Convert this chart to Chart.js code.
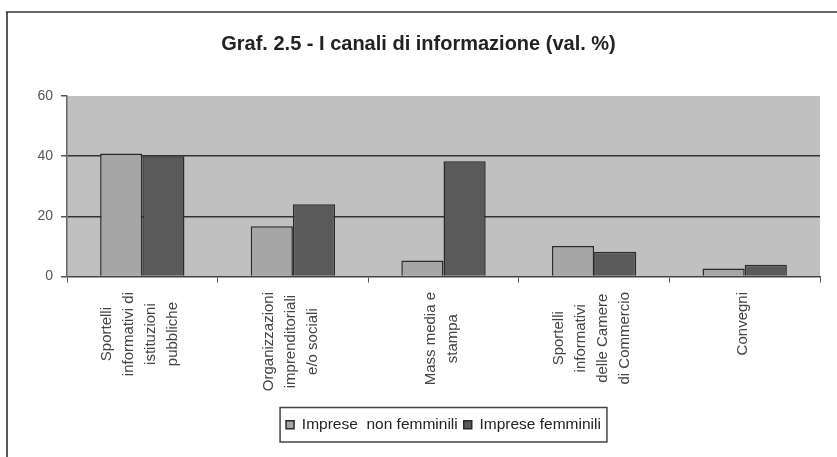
<!DOCTYPE html>
<html>
<head>
<meta charset="utf-8">
<script src="https://cdn.jsdelivr.net/npm/chart.js@4.4.1/dist/chart.umd.min.js"></script>
<style>
  html, body { margin: 0; padding: 0; background: #ffffff; }
  #wrap { width: 837px; height: 457px; position: relative; }
</style>
</head>
<body>
<div id="wrap"><canvas id="c" width="837" height="457"></canvas></div>
<script>
const titleText = "Graf. 2.5 - I canali di informazione (val. %)";
const categories = [
  ["Sportelli", "informativi di", "istituzioni", "pubbliche"],
  ["Organizzazioni", "imprenditoriali", "e/o sociali"],
  ["Mass media e", "stampa"],
  ["Sportelli", "informativi", "delle Camere", "di Commercio"],
  ["Convegni"]
];
const seriesNames = ["Imprese  non femminili", "Imprese femminili"];
const impreseNonFemminili = [40.9, 16.7, 5.3, 10.1, 2.7];
const impreseFemminili = [40.0, 24.0, 38.3, 8.2, 3.9];
const yTicks = [0, 20, 40, 60];

const FONT = "'Liberation Sans', Arial, sans-serif";

const framePlugin = {
  id: 'frame',
  beforeDraw(chart) {
    const ctx = chart.ctx;
    const a = chart.chartArea;
    ctx.save();
    ctx.fillStyle = '#c0c0c0';
    ctx.fillRect(a.left, a.top, a.right - a.left, a.bottom - a.top);
    ctx.strokeStyle = '#666';
    ctx.lineWidth = 2;
    ctx.beginPath();
    ctx.moveTo(6, 12); ctx.lineTo(837, 12);
    ctx.stroke();
    ctx.strokeStyle = '#222';
    ctx.lineWidth = 1.5;
    ctx.beginPath();
    ctx.moveTo(7, 12); ctx.lineTo(7, 457);
    ctx.stroke();
    ctx.restore();
  },
  afterDraw(chart) {
    const ctx = chart.ctx;
    const xs = chart.scales.x;
    ctx.save();
    ctx.font = '15px ' + FONT;
    ctx.fillStyle = '#444';
    ctx.textAlign = 'center';
    ctx.textBaseline = 'middle';
    const top = 292, spacing = 22;
    categories.forEach((lines, i) => {
      const cx = xs.getPixelForValue(i) - 2;
      let maxW = 0;
      lines.forEach(l => { maxW = Math.max(maxW, ctx.measureText(l).width); });
      const n = lines.length;
      lines.forEach((l, j) => {
        ctx.save();
        ctx.translate(cx + (j - (n - 1) / 2) * spacing, top + maxW / 2);
        ctx.rotate(-Math.PI / 2);
        ctx.fillText(l, 0, 0);
        ctx.restore();
      });
    });
    ctx.restore();
    const lg = chart.legend;
    if (lg && lg.legendHitBoxes && lg.legendHitBoxes.length) {
      let l = Infinity, r = -Infinity, t = Infinity, b = -Infinity;
      lg.legendHitBoxes.forEach(h => {
        l = Math.min(l, h.left); r = Math.max(r, h.left + h.width);
        t = Math.min(t, h.top); b = Math.max(b, h.top + h.height);
      });
      ctx.save();
      ctx.strokeStyle = '#444';
      ctx.lineWidth = 1.5;
      ctx.strokeRect(l - 6, t - 9.5, (r - l) + 12, (b - t) + 19);
      ctx.restore();
    }
  }
};

new Chart(document.getElementById('c'), {
  type: 'bar',
  data: {
    labels: categories.map(c => c.join(' ')),
    datasets: [
      {
        label: seriesNames[0],
        data: impreseNonFemminili,
        backgroundColor: '#a6a6a6',
        borderColor: '#2a2a2a',
        borderWidth: 1.5,
        categoryPercentage: 0.56,
        barPercentage: 1.0
      },
      {
        label: seriesNames[1],
        data: impreseFemminili,
        backgroundColor: '#5a5a5a',
        borderColor: '#2a2a2a',
        borderWidth: 1.5,
        categoryPercentage: 0.56,
        barPercentage: 1.0
      }
    ]
  },
  options: {
    responsive: false,
    animation: false,
    devicePixelRatio: 1,
    layout: { padding: { top: 0, left: 17, right: 17, bottom: 14.5 } },
    plugins: {
      title: {
        display: true,
        text: titleText,
        color: '#222',
        font: { family: FONT, size: 20, weight: 'bold' },
        padding: { top: 32, bottom: 40 }
      },
      legend: {
        display: true,
        position: 'bottom',
        fullSize: false,
        labels: {
          color: '#222',
          font: { family: FONT, size: 15.5 },
          boxWidth: 8,
          boxHeight: 8,
          padding: 6
        }
      },
      tooltip: { enabled: false }
    },
    scales: {
      x: {
        offset: true,
        grid: {
          display: true,
          drawOnChartArea: false,
          drawTicks: true,
          tickLength: 6,
          color: '#555',
          offset: true
        },
        border: { display: true, color: '#444', width: 1.5 },
        ticks: { display: false },
        afterFit(s) { s.height = 134.5; }
      },
      y: {
        min: 0,
        max: 60,
        afterBuildTicks(s) { s.ticks = yTicks.map(v => ({ value: v })); },
        grid: {
          drawTicks: true,
          tickLength: 6,
          color: ctx => (ctx.tick && (ctx.tick.value === 20 || ctx.tick.value === 40)) ? '#333' : 'rgba(0,0,0,0)',
          tickColor: '#555',
          lineWidth: 1.5
        },
        border: { display: true, color: '#666', width: 1.5 },
        ticks: {
          color: '#555',
          font: { family: FONT, size: 14 },
          padding: 8
        },
        afterFit(s) { s.width = 50; }
      }
    }
  },
  plugins: [framePlugin]
});
</script>
</body>
</html>
